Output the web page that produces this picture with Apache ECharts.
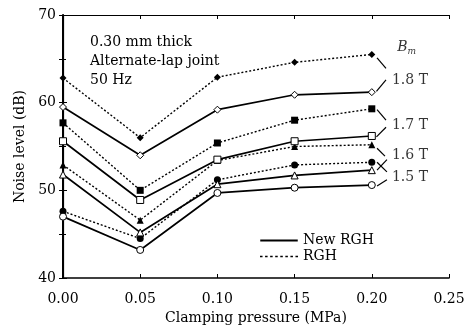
<!DOCTYPE html>
<html>
<head>
<meta charset="utf-8">
<script src="https://cdn.jsdelivr.net/npm/echarts@6/dist/echarts.min.js"></script>
<style>
  html, body { margin: 0; padding: 0; background: #fff; }
  #chart { width: 467px; height: 326px; }
</style>
</head>
<body>
<div id="chart"></div>
<script>
    // clamping pressure (MPa)
    var pressure = [0.00, 0.05, 0.10, 0.15, 0.20];
    var xTicks = ['0.00', '0.05', '0.10', '0.15', '0.20', '0.25'];

    // noise level (dB), RGH = dotted / filled, New RGH = solid / open
    var rgh18 = [62.8, 56.0, 62.9, 64.6, 65.5];
    var new18 = [59.5, 54.0, 59.2, 60.9, 61.2];
    var rgh17 = [57.7, 50.0, 55.4, 58.0, 59.3];
    var new17 = [55.6, 48.9, 53.5, 55.6, 56.2];
    var rgh16 = [52.9, 46.6, 53.4, 55.0, 55.2];
    var new16 = [51.8, 45.2, 50.7, 51.7, 52.3];
    var rgh15 = [47.6, 44.5, 51.2, 52.9, 53.2];
    var new15 = [47.0, 43.2, 49.7, 50.3, 50.6];

    // flux density labels at the right
    var bmLabels = ['1.8 T', '1.7 T', '1.6 T', '1.5 T'];
    var bmLabelPos = [[0.2247, 62.6], [0.2247, 57.4], [0.2247, 54.0], [0.2247, 51.5]];

    // little brackets joining line ends to labels
    var brackets = [
        [[0.2034, 65.1], [0.2092, 63.9]],
        [[0.2030, 61.3], [0.2092, 62.6]],
        [[0.2034, 59.2], [0.2092, 58.0]],
        [[0.2030, 56.1], [0.2092, 57.2]],
        [[0.2034, 54.8], [0.2085, 53.9]],
        [[0.2034, 52.3], [0.2098, 53.5]],
        [[0.2034, 53.2], [0.2098, 52.1]],
        [[0.2034, 50.5], [0.2098, 51.2]]
    ];

    var FONT = '"DejaVu Serif", "Liberation Serif", serif';
    var FS = 14;

    function pairs(ys) {
        var out = [];
        for (var i = 0; i < ys.length; i++) {
            out.push([pressure[i], ys[i]]);
        }
        return out;
    }

    function rghSeries(ys, sym) {
        return {
            name: 'RGH', type: 'line', data: pairs(ys), symbol: sym, symbolSize: 7,
            lineStyle: { color: '#000', width: 1.4, type: [2, 2] },
            itemStyle: { color: '#000', borderColor: '#000', borderWidth: 0 },
            z: 3, animation: false
        };
    }
    function newSeries(ys, sym) {
        return {
            name: 'New RGH', type: 'line', data: pairs(ys), symbol: sym, symbolSize: 7,
            lineStyle: { color: '#000', width: 1.7, type: 'solid' },
            itemStyle: { color: '#fff', borderColor: '#000', borderWidth: 1 },
            z: 4, animation: false
        };
    }

    var chart = echarts.init(document.getElementById('chart'));

    var labelData = [];
    for (var i = 0; i < bmLabels.length; i++) {
        labelData.push({ value: bmLabelPos[i], label: { formatter: bmLabels[i] } });
    }
    labelData.push({ value: [0.2225, 66.3], label: { formatter: '{i|B}{s|m}' } });

    var bracketData = [];
    for (var j = 0; j < brackets.length; j++) {
        bracketData.push([{ coord: brackets[j][0] }, { coord: brackets[j][1] }]);
    }

    var option = {
        backgroundColor: '#fff',
        animation: false,
        grid: { left: 63, right: 18, top: 15, bottom: 48, outerBoundsMode: 'none', containLabel: false },
        legend: {
            data: [
                { name: 'New RGH', icon: 'path://M0,0 L30,0 L30,1.6 L0,1.6 Z' },
                { name: 'RGH', icon: 'path://M0,0 L2,0 L2,1.2 L0,1.2 Z M4,0 L6,0 L6,1.2 L4,1.2 Z M8,0 L10,0 L10,1.2 L8,1.2 Z M12,0 L14,0 L14,1.2 L12,1.2 Z M16,0 L18,0 L18,1.2 L16,1.2 Z M20,0 L22,0 L22,1.2 L20,1.2 Z M24,0 L26,0 L26,1.2 L24,1.2 Z M28,0 L30,0 L30,1.2 L28,1.2 Z' }
            ],
            orient: 'vertical', left: 255, top: 228,
            itemWidth: 38, itemHeight: 2, itemGap: 1,
            itemStyle: { color: '#000', borderWidth: 0 },
            textStyle: { fontFamily: FONT, fontSize: FS, color: '#000', lineHeight: 15 },
            selectedMode: false
        },
        xAxis: [{
            type: 'value', min: 0, max: 0.25, interval: 0.05,
            name: 'Clamping pressure (MPa)', nameLocation: 'middle', nameGap: 32,
            nameTextStyle: { fontFamily: FONT, fontSize: FS, color: '#000' },
            axisLine: { lineStyle: { color: '#000', width: 1.6 } },
            axisTick: { inside: true, length: 4, lineStyle: { color: '#000' } },
            axisLabel: {
                fontFamily: FONT, fontSize: FS, color: '#000', margin: 14,
                formatter: function (v) { return xTicks[Math.round(v / 0.05)]; }
            },
            splitLine: { show: false }
        }, {
            type: 'value', position: 'top', min: 0, max: 0.25, interval: 0.05,
            axisLine: { lineStyle: { color: '#000', width: 1.2 } },
            axisTick: { inside: true, length: 4, lineStyle: { color: '#000' } },
            axisLabel: { show: false }, splitLine: { show: false }
        }],
        yAxis: [{
            type: 'value', min: 40, max: 70, interval: 10,
            name: 'Noise level (dB)', nameLocation: 'middle', nameGap: 36,
            nameTextStyle: { fontFamily: FONT, fontSize: FS, color: '#000' },
            axisLine: { show: true, lineStyle: { color: '#000', width: 2 } },
            axisTick: { inside: true, length: 4, lineStyle: { color: '#000' } },
            minorTick: { show: true, splitNumber: 2, length: 3, lineStyle: { color: '#000' } },
            axisLabel: { fontFamily: FONT, fontSize: FS, color: '#000', margin: 7 },
            splitLine: { show: false }
        }, {
            type: 'value', position: 'right', min: 40, max: 70, interval: 5,
            axisLine: { show: true, lineStyle: { color: '#000', width: 1.2 } },
            axisTick: { inside: true, length: 4, lineStyle: { color: '#000' } },
            axisLabel: { show: false }, splitLine: { show: false }
        }],
        graphic: [{
            type: 'text', left: 90, top: 33,
            style: {
                text: '0.30 mm thick\nAlternate-lap joint\n50 Hz',
                fontFamily: FONT, fontSize: FS, lineHeight: 19, fill: '#000'
            }
        }],
        series: [
            rghSeries(rgh18, 'diamond'), newSeries(new18, 'diamond'),
            rghSeries(rgh17, 'rect'), newSeries(new17, 'rect'),
            rghSeries(rgh16, 'triangle'), newSeries(new16, 'triangle'),
            rghSeries(rgh15, 'circle'), newSeries(new15, 'circle'),
            {
                type: 'scatter', data: labelData, symbol: 'circle', symbolSize: 1, silent: true,
                itemStyle: { color: 'rgba(0,0,0,0)' },
                label: {
                    show: true, position: 'inside', fontFamily: FONT, fontSize: FS, color: '#000',
                    rich: {
                        i: { fontFamily: FONT, fontStyle: 'italic', fontSize: FS, color: '#000' },
                        s: { fontFamily: FONT, fontStyle: 'italic', fontSize: 9, color: '#000', padding: [8, 0, 0, 0] }
                    }
                }
            },
            {
                type: 'line', data: [], silent: true,
                markLine: {
                    silent: true, symbol: 'none', animation: false,
                    label: { show: false },
                    lineStyle: { color: '#000', width: 1.2, type: 'solid' },
                    data: bracketData
                }
            }
        ]
    };

    chart.setOption(option);
</script>
</body>
</html>
